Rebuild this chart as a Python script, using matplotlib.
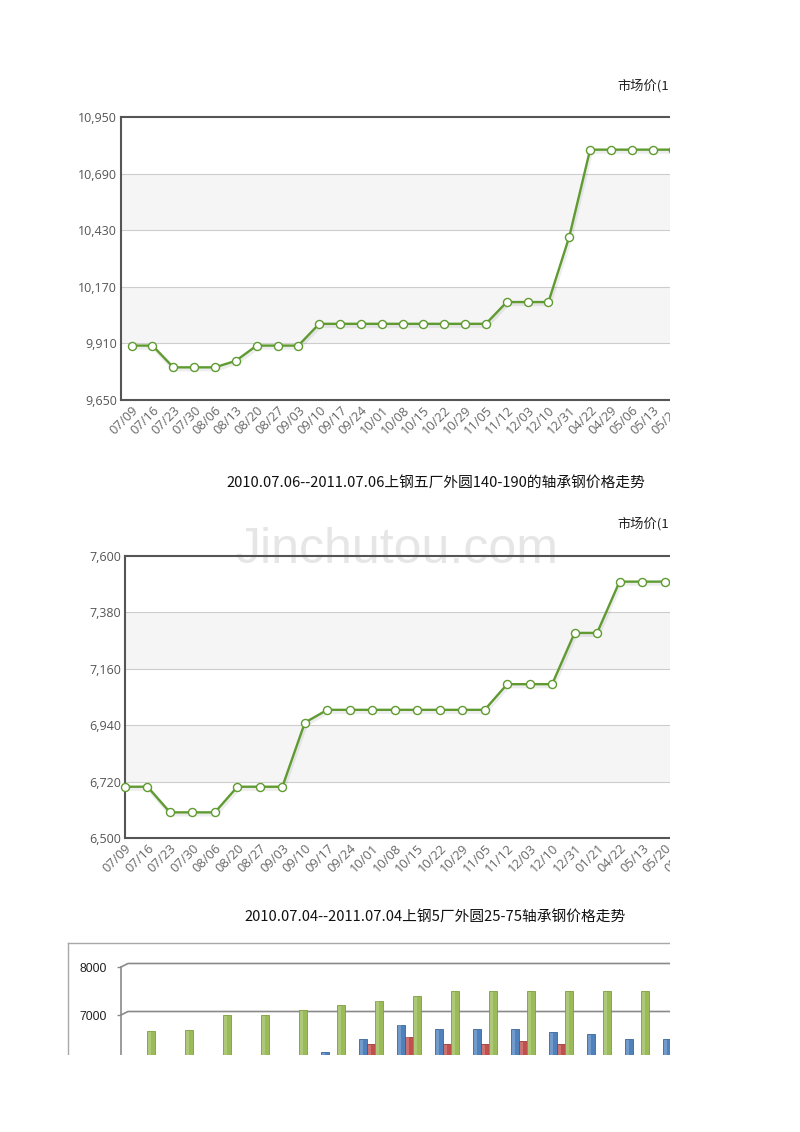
import numpy as np
import matplotlib
matplotlib.use("Agg")
import matplotlib.pyplot as plt
from matplotlib.patches import Rectangle
from matplotlib.lines import Line2D
from matplotlib.transforms import offset_copy

# ---------------- data ----------------
dates1 = ['07/09', '07/16', '07/23', '07/30', '08/06', '08/13', '08/20', '08/27',
          '09/03', '09/10', '09/17', '09/24', '10/01', '10/08', '10/15', '10/22',
          '10/29', '11/05', '11/12', '12/03', '12/10', '12/31', '04/22', '04/29',
          '05/06', '05/13', '05/20', '05/27']
price1 = [9900, 9900, 9800, 9800, 9800, 9830, 9900, 9900,
          9900, 10000, 10000, 10000, 10000, 10000, 10000, 10000,
          10000, 10000, 10100, 10100, 10100, 10400, 10800, 10800,
          10800, 10800, 10800, 10800]
yticks1 = [9650, 9910, 10170, 10430, 10690, 10950]

dates2 = ['07/09', '07/16', '07/23', '07/30', '08/06', '08/20', '08/27', '09/03',
          '09/10', '09/17', '09/24', '10/01', '10/08', '10/15', '10/22', '10/29',
          '11/05', '11/12', '12/03', '12/10', '12/31', '01/21', '04/22', '05/13',
          '05/20', '05/27']
price2 = [6700, 6700, 6600, 6600, 6600, 6700, 6700, 6700,
          6950, 7000, 7000, 7000, 7000, 7000, 7000, 7000,
          7000, 7100, 7100, 7100, 7300, 7300, 7500, 7500,
          7500, 7500]
yticks2 = [6500, 6720, 6940, 7160, 7380, 7600]

nan = np.nan
bar_blue = [nan, nan, nan, nan, nan, 6230, 6500, 6800, 6700, 6700, 6700, 6650, 6600, 6500, 6500]
bar_red = [nan, nan, nan, nan, nan, nan, 6400, 6550, 6400, 6400, 6450, 6400, nan, nan, nan]
bar_green = [6660, 6690, 7000, 7000, 7100, 7200, 7300, 7400, 7500, 7500, 7500, 7500, 7500, 7500, nan]
bar_ticks = [7000, 8000]

title_unit = '市场价(1'
caption1 = '2010.07.06--2011.07.06上钢五厂外圆140-190的轴承钢价格走势'
caption2 = '2010.07.04--2011.07.04上钢5厂外圆25-75轴承钢价格走势'
watermark = 'Jinchutou.com'

# ---------------- figure ----------------
W, H = 800, 1132
fig = plt.figure(figsize=(W / 100, H / 100), dpi=100)
fig.patch.set_facecolor('white')
CJK = ['Noto Sans CJK SC', 'DejaVu Sans']
TICKFONT = 'Open Sans'


def px_axes(left, top, right, bottom):
    return fig.add_axes([left / W, 1 - bottom / H, (right - left) / W, (bottom - top) / H])


def fx(x):
    return x / W


def fy(y):
    return 1 - y / H


LINE_C = '#5f9b30'


def line_chart(ax, dates, prices, yticks, xlim):
    ax.set_facecolor('none')
    ax.set_xlim(*xlim)
    ax.set_ylim(yticks[0], yticks[-1])
    for i in range(1, len(yticks) - 1, 2):
        ax.axhspan(yticks[i], yticks[i + 1], color='#f5f5f5', lw=0, zorder=0)
    for v in yticks[1:-1]:
        ax.axhline(v, color='#cdcdcd', lw=0.8, zorder=1)
    x = np.arange(len(prices))
    # soft shadow
    sh = offset_copy(ax.transData, fig=fig, x=1.0, y=-2.0, units='dots')
    ax.plot(x, prices, color='#000000', alpha=0.07, lw=3.0, transform=sh, zorder=2,
            solid_joinstyle='round')
    ax.plot(x, prices, color=LINE_C, lw=1.7, marker='o', markersize=5.8,
            markerfacecolor='white', markeredgecolor=LINE_C, markeredgewidth=1.0,
            zorder=5, clip_on=False)
    for s in ['left', 'top', 'bottom']:
        ax.spines[s].set_color('#555555')
        ax.spines[s].set_linewidth(1.5)
    ax.spines['right'].set_visible(False)
    ax.set_yticks(yticks)
    ax.set_yticklabels([f'{v:,}' for v in yticks], fontsize=9.0, color='#555555',
                       family=TICKFONT)
    ax.set_xticks(x)
    ax.set_xticklabels(dates, rotation=45, ha='right', va='top', rotation_mode='anchor',
                       fontsize=9.3, color='#666666', family=TICKFONT)
    ax.tick_params(axis='both', length=0)
    ax.tick_params(axis='y', pad=3)
    ax.tick_params(axis='x', pad=3)


# chart 1
ax1 = px_axes(121, 117, 780, 400)
line_chart(ax1, dates1, price1, yticks1, (-0.51, (780 - 121) / 20.84 - 0.51))
fig.text(fx(617), fy(86), title_unit, family=CJK, fontsize=9.5, color='#222222',
         ha='left', va='center')
fig.text(fx(436), fy(484), caption1, family=CJK, fontsize=10.6, color='#111111',
         ha='center', va='center')

# chart 2
ax2 = px_axes(125, 556, 780, 838)
line_chart(ax2, dates2, price2, yticks2, (0, (780 - 125) / 22.48))
fig.text(fx(617), fy(524), title_unit, family=CJK, fontsize=9.5, color='#222222',
         ha='left', va='center')
fig.text(fx(435), fy(918), caption2, family=CJK, fontsize=10.6, color='#111111',
         ha='center', va='center')

# watermark (behind charts)
fig.text(fx(397), fy(550), watermark, family='Liberation Sans', fontsize=36,
         color='#e6e6e6', ha='center', va='center', zorder=-1)

# chart 3 : clustered bars (partially visible)
ax3 = px_axes(121, 943, 800, 1055)
ax3.set_facecolor('none')
xlo = -(142.7 - 121) / 38
xhi = xlo + (800 - 121) / 38
ax3.set_xlim(xlo, xhi)
ax3.set_ylim(6167, 8500)
dx, dv = 7 / 38, 73
for v in bar_ticks:
    ax3.plot([xlo, xlo + dx, xhi], [v, v + dv, v + dv], color='#8a8a8a', lw=1.2,
             zorder=1, clip_on=False)
g = np.arange(len(bar_green))
bw = 0.21
for vals, off, fc, ec in [(bar_blue, -0.21, '#4f81bd', '#3a679c'),
                          (bar_red, 0.0, '#c0504d', '#9a3b38'),
                          (bar_green, 0.21, '#9bbb59', '#7d9c40')]:
    vals = np.array(vals, dtype=float)
    ax3.bar(g + off, vals, width=bw, color=fc, edgecolor=ec, linewidth=0.6, zorder=3)
    # light highlight stripe for cylinder look
    ax3.bar(g + off - 0.03, vals - 15, width=bw * 0.3, color='white', alpha=0.2,
            linewidth=0, zorder=4)
for s in ['top', 'right', 'bottom']:
    ax3.spines[s].set_visible(False)
ax3.spines['left'].set_color('#8a8a8a')
ax3.spines['left'].set_linewidth(1.2)
ax3.spines['left'].set_bounds(6167, bar_ticks[-1])
ax3.set_yticks(bar_ticks)
ax3.set_yticklabels([str(v) for v in bar_ticks], fontsize=8.8, color='#222222',
                    family='Liberation Sans')
ax3.tick_params(axis='y', length=3, width=1, color='#8a8a8a', pad=7)
ax3.set_xticks([])

# outer box of the bar chart
fig.add_artist(Line2D([fx(68), fx(68)], [fy(943), 0], transform=fig.transFigure,
                      color='#a8a8a8', lw=1.0, zorder=10))
fig.add_artist(Line2D([fx(68), 1], [fy(943), fy(943)], transform=fig.transFigure,
                      color='#a8a8a8', lw=1.0, zorder=10))

# page clipping (the scanned page cuts the charts off)
fig.add_artist(Rectangle((fx(670), 0), 1 - fx(670), 1, transform=fig.transFigure,
                         facecolor='white', edgecolor='none', zorder=50))
fig.add_artist(Rectangle((0, 0), 1, fy(1055), transform=fig.transFigure,
                         facecolor='white', edgecolor='none', zorder=50))

fig.savefig('out.png', dpi=100, facecolor='white')
